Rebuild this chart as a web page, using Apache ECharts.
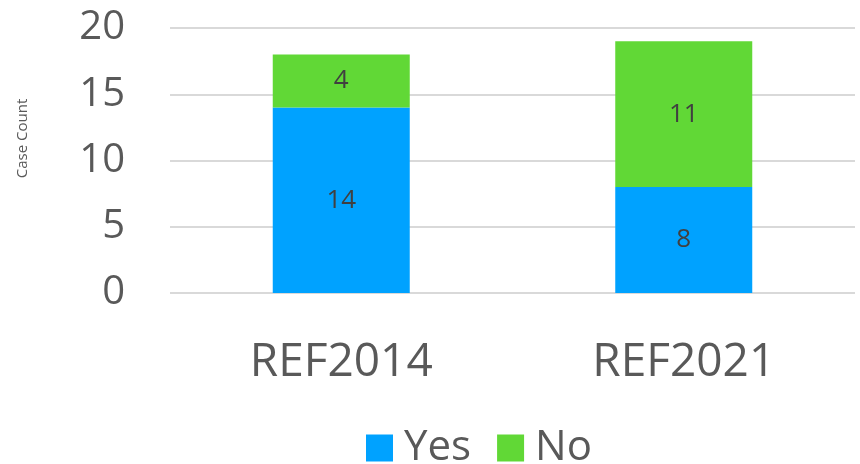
<!DOCTYPE html>
<html>
<head>
<meta charset="utf-8">
<script src="https://cdn.jsdelivr.net/npm/echarts@6/dist/echarts.min.js"></script>
<style>
  html, body { margin: 0; padding: 0; background: #fff; }
  #chart { width: 860px; height: 464px; }
</style>
</head>
<body>
<div id="chart"></div>
<script>
const categories = ['REF2014', 'REF2021']
const yesValues = [14, 8]
const noValues = [4, 11]
const yTicks = [0, 5, 10, 15, 20]

const FONT = '"Open Sans", sans-serif'

const chart = echarts.init(document.getElementById('chart'))

chart.setOption({
  animation: false,
  textStyle: { fontFamily: FONT },
  grid: { left: 170, right: 5, top: 28, bottom: 171 },
  legend: {
    top: 422,
    left: 361,
    itemWidth: 27,
    itemHeight: 27,
    itemGap: 26,
    icon: 'rect',
    textStyle: { fontSize: 42, color: '#595959', fontFamily: FONT, padding: [0, 0, 0, 6] },
    data: ['Yes', 'No']
  },
  xAxis: {
    type: 'category',
    data: categories,
    axisLine: { show: false },
    axisTick: { show: false },
    axisLabel: { fontSize: 46, color: '#595959', margin: 47 }
  },
  yAxis: {
    type: 'value',
    min: yTicks[0],
    max: yTicks[yTicks.length - 1],
    interval: 5,
    name: 'Case Count',
    nameLocation: 'middle',
    nameGap: 140,
    nameTextStyle: { fontSize: 15, color: '#595959', padding: [0, 0, 0, 44] },
    axisLabel: { fontSize: 40, color: '#595959', margin: 45 },
    splitLine: { lineStyle: { color: '#d9d9d9', width: 2 } }
  },
  series: [
    {
      name: 'Yes',
      type: 'bar',
      stack: 'total',
      barWidth: '40%',
      data: yesValues,
      itemStyle: { color: '#00A2FF' },
      label: { show: true, position: 'inside', fontSize: 26, color: '#404040' }
    },
    {
      name: 'No',
      type: 'bar',
      stack: 'total',
      data: noValues,
      itemStyle: { color: '#61D836' },
      label: { show: true, position: 'inside', fontSize: 26, color: '#404040' }
    }
  ]
})
</script>
</body>
</html>
